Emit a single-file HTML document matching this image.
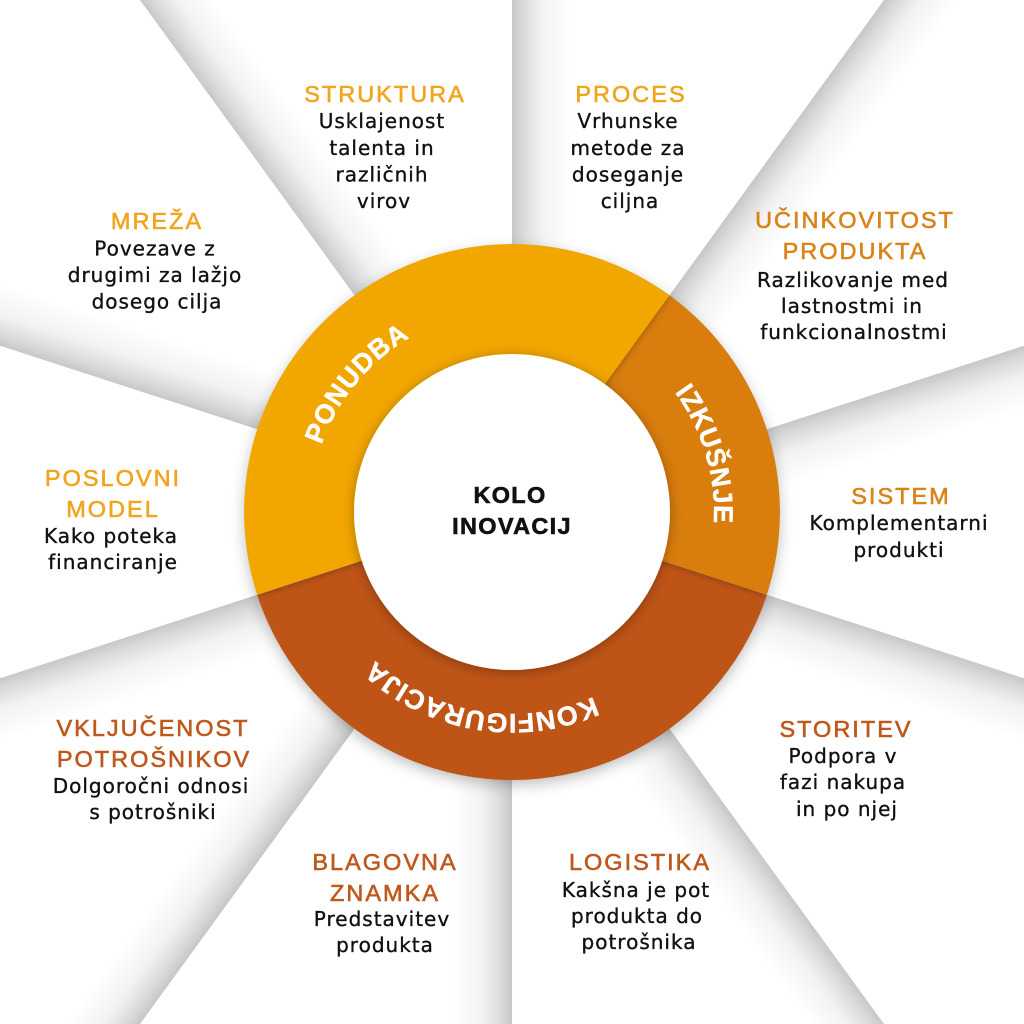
<!DOCTYPE html>
<html><head><meta charset="utf-8"><style>
html,body{margin:0;padding:0;background:#fff;width:1024px;height:1024px;overflow:hidden;}
svg{display:block;}
.h{font-family:"Liberation Sans",sans-serif;font-size:23.5px;letter-spacing:2px;text-anchor:middle;stroke-width:0.6px;}
.y{fill:#EFA61E;stroke:#EFA61E;}
.o{fill:#D8841A;stroke:#D8841A;}
.r{fill:#BF581C;stroke:#BF581C;}
.b{font-family:"DejaVu Sans","Liberation Sans",sans-serif;font-size:20px;letter-spacing:1px;text-anchor:middle;fill:#111;stroke:#111;stroke-width:0.35px;}
.c{font-family:"Liberation Sans",sans-serif;font-weight:bold;font-size:23.5px;letter-spacing:1.3px;text-anchor:middle;fill:#111;stroke:#111;stroke-width:0.6px;}
.w{font-family:"Liberation Sans",sans-serif;font-weight:bold;font-size:27px;letter-spacing:0.8px;fill:#fff;stroke:#fff;stroke-width:0.4px;}
</style></head><body>
<svg width="1024" height="1024" viewBox="0 0 1024 1024" xmlns="http://www.w3.org/2000/svg" style="overflow:hidden">
<defs>
<linearGradient id="s0" gradientUnits="userSpaceOnUse" x1="512" y1="512" x2="572" y2="512"><stop offset="0" stop-color="#000" stop-opacity="0.22"/><stop offset="0.2" stop-color="#000" stop-opacity="0.14"/><stop offset="0.5" stop-color="#000" stop-opacity="0.05"/><stop offset="1" stop-color="#000" stop-opacity="0"/></linearGradient>
<linearGradient id="s36" href="#s0" gradientUnits="userSpaceOnUse" x1="512" y1="512" x2="560.5" y2="547.3"/>
<linearGradient id="s72" href="#s0" gradientUnits="userSpaceOnUse" x1="512" y1="512" x2="530.5" y2="569.1"/>
<linearGradient id="s108" href="#s0" gradientUnits="userSpaceOnUse" x1="512" y1="512" x2="493.5" y2="569.1"/>
<linearGradient id="s144" href="#s0" gradientUnits="userSpaceOnUse" x1="512" y1="512" x2="463.5" y2="547.3"/>
<linearGradient id="s180" href="#s0" gradientUnits="userSpaceOnUse" x1="512" y1="512" x2="452" y2="512"/>
<linearGradient id="s216" href="#s0" gradientUnits="userSpaceOnUse" x1="512" y1="512" x2="463.5" y2="476.7"/>
<linearGradient id="s252" href="#s0" gradientUnits="userSpaceOnUse" x1="512" y1="512" x2="530.5" y2="569.1"/>
<linearGradient id="s288" href="#s0" gradientUnits="userSpaceOnUse" x1="512" y1="512" x2="530.5" y2="454.9"/>
<linearGradient id="s324" href="#s0" gradientUnits="userSpaceOnUse" x1="512" y1="512" x2="560.5" y2="476.7"/>
<filter id="blur" x="-30%" y="-30%" width="160%" height="160%"><feGaussianBlur stdDeviation="8"/></filter>
<filter id="ws" x="-30%" y="-30%" width="160%" height="160%"><feDropShadow dx="0" dy="0" stdDeviation="4" flood-color="#000" flood-opacity="0.35"/></filter>
<filter id="cs" x="-30%" y="-30%" width="160%" height="160%"><feDropShadow dx="0" dy="2" stdDeviation="6" flood-color="#000" flood-opacity="0.3"/></filter>
<clipPath id="ringclip"><circle cx="512" cy="512" r="268"/></clipPath>
<path id="tp" d="M512,310 A202,202 0 1 1 512,714 A202,202 0 1 1 512,310"/>
</defs>

<rect width="1024" height="1024" fill="#fff"/>

<!-- ray shadows -->
<polygon points="512,512 512,0 572,0 572,512" fill="url(#s0)"/>
<polygon points="512,512 884,0 958.1,0 560.5,547.3" fill="url(#s36)"/>
<polygon points="512,512 1024,345.7 1024,408.8 530.5,569.1" fill="url(#s72)"/>
<polygon points="512,512 1024,678.3 1024,741.5 493.5,569.1" fill="url(#s108)"/>
<polygon points="512,512 884,1024 809.9,1024 463.5,547.3" fill="url(#s144)"/>
<polygon points="512,512 512,1024 452,1024 452,512" fill="url(#s180)"/>
<polygon points="512,512 140,1024 65.9,1024 463.5,476.7" fill="url(#s216)"/>
<polygon points="512,512 0,678.3 0,741.5 530.5,569.1" fill="url(#s252)"/>
<polygon points="512,512 0,345.7 0,282.5 530.5,454.9" fill="url(#s288)"/>
<polygon points="512,512 140,0 214.1,0 560.5,476.7" fill="url(#s324)"/>

<!-- ring shadow -->
<circle cx="512" cy="517" r="266" fill="#000" opacity="0.3" filter="url(#blur)"/>

<!-- ring wedges -->
<g clip-path="url(#ringclip)">
<path d="M512,512 L779,599 A281,281 0 0 1 245,599 Z" fill="#BF5417"/>
<path d="M512,512 L669.5,295.2 A268,268 0 0 1 766.9,594.8 Z" fill="#D97D0C" filter="url(#ws)"/>
<path d="M512,512 L257.1,594.8 A268,268 0 0 1 669.5,295.2 Z" fill="#F2A600" filter="url(#ws)"/>
</g>

<!-- inner circle -->
<circle cx="512" cy="512" r="158" fill="#fff" filter="url(#cs)"/>

<!-- ring labels -->
<text class="w"><textPath href="#tp" startOffset="1091" text-anchor="middle">PONUDBA</textPath></text>
<text class="w"><textPath href="#tp" startOffset="259" text-anchor="middle">IZKUŠNJE</textPath></text>
<text class="w"><textPath href="#tp" startOffset="668" text-anchor="middle">KONFIGURACIJA</textPath></text>

<!-- center -->
<text class="c" x="510" y="503">KOLO</text>
<text class="c" x="512" y="534">INOVACIJ</text>

<!-- STRUKTURA -->
<text class="h y" x="385" y="102">STRUKTURA</text>
<text class="b" x="382" y="128">Usklajenost</text>
<text class="b" x="382" y="155">talenta in</text>
<text class="b" x="382" y="181.5">različnih</text>
<text class="b" x="384" y="208">virov</text>

<!-- PROCES -->
<text class="h y" x="631" y="102">PROCES</text>
<text class="b" x="628" y="128">Vrhunske</text>
<text class="b" x="628" y="155">metode za</text>
<text class="b" x="628" y="181.5">doseganje</text>
<text class="b" x="630" y="208">ciljna</text>

<!-- MREŽA -->
<text class="h y" x="157" y="229">MREŽA</text>
<text class="b" x="155" y="255.5">Povezave z</text>
<text class="b" x="155" y="282">drugimi za lažjo</text>
<text class="b" x="157" y="308.5">dosego cilja</text>

<!-- UČINKOVITOST -->
<text class="h o" x="855" y="228">UČINKOVITOST</text>
<text class="h o" x="855" y="259">PRODUKTA</text>
<text class="b" x="853" y="287">Razlikovanje med</text>
<text class="b" x="852" y="313">lastnostmi in</text>
<text class="b" x="854" y="339">funkcionalnostmi</text>

<!-- POSLOVNI MODEL -->
<text class="h y" x="113" y="486">POSLOVNI</text>
<text class="h y" x="113" y="517">MODEL</text>
<text class="b" x="111" y="543">Kako poteka</text>
<text class="b" x="113" y="569">financiranje</text>

<!-- SISTEM -->
<text class="h o" x="901" y="504">SISTEM</text>
<text class="b" x="899" y="530">Komplementarni</text>
<text class="b" x="899" y="557">produkti</text>

<!-- VKLJUČENOST -->
<text class="h r" x="153" y="736">VKLJUČENOST</text>
<text class="h r" x="154" y="767">POTROŠNIKOV</text>
<text class="b" x="151" y="793">Dolgoročni odnosi</text>
<text class="b" x="153" y="819">s potrošniki</text>

<!-- STORITEV -->
<text class="h r" x="846" y="737">STORITEV</text>
<text class="b" x="843" y="763">Podpora v</text>
<text class="b" x="843" y="789">fazi nakupa</text>
<text class="b" x="847" y="816">in po njej</text>

<!-- BLAGOVNA ZNAMKA -->
<text class="h r" x="385" y="870">BLAGOVNA</text>
<text class="h r" x="385" y="901">ZNAMKA</text>
<text class="b" x="382" y="926">Predstavitev</text>
<text class="b" x="385" y="952">produkta</text>

<!-- LOGISTIKA -->
<text class="h r" x="640" y="870">LOGISTIKA</text>
<text class="b" x="636" y="897">Kakšna je pot</text>
<text class="b" x="637" y="923">produkta do</text>
<text class="b" x="639" y="949">potrošnika</text>
</svg>
</body></html>
